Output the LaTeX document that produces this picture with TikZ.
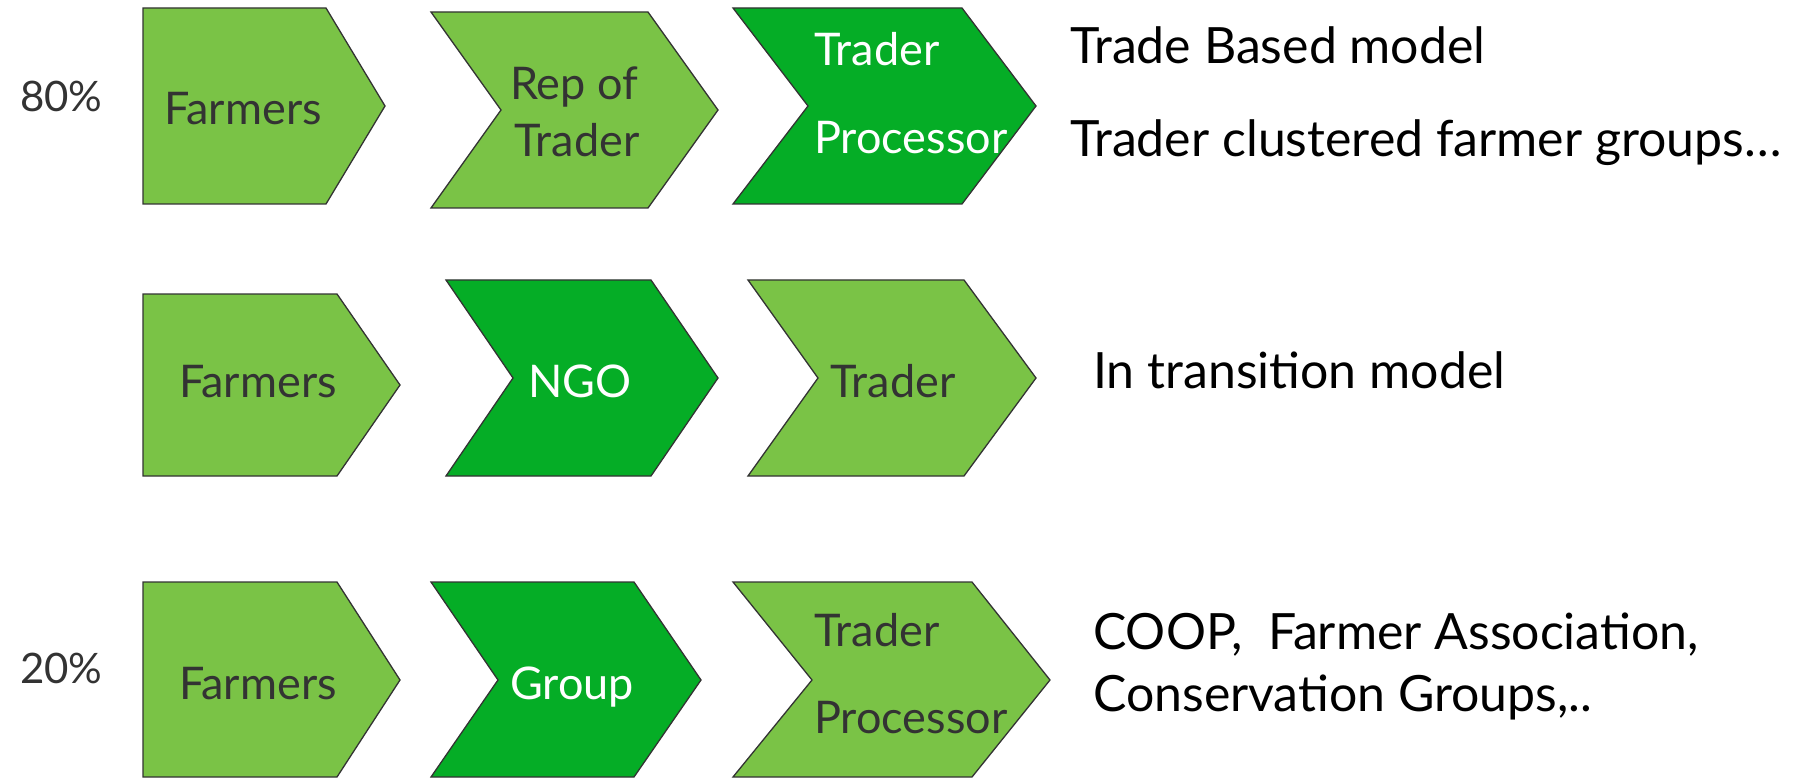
\documentclass[tikz,border=0pt]{standalone}
\usepackage{fontspec}
\setmainfont{Lato}
\definecolor{lightg}{RGB}{122,195,70}
\definecolor{darkg}{RGB}{5,173,38}
\definecolor{txtg}{RGB}{51,51,51}
\tikzset{
  lightbox/.style={fill=lightg,draw=txtg,line width=1.3pt,line join=miter},
  darkbox/.style={fill=darkg,draw=txtg,line width=1.3pt,line join=miter},
  pct/.style={anchor=base west,inner sep=0pt,text=txtg,font=\fontsize{42}{50}\selectfont},
  lbl/.style={anchor=base west,inner sep=0pt,text=txtg,font=\fontsize{45}{54}\selectfont},
  wlbl/.style={lbl,text=white},
  rtxt/.style={anchor=base west,inner sep=0pt,text=black,font=\fontsize{50}{60}\selectfont},
}
\newcommand{\pent}[7]{% style, L, F, P, T, B, M
  \path[#1] (#2,#5) -- (#3,#5) -- (#4,#7) -- (#3,#6) -- (#2,#6) -- cycle;}
\newcommand{\chev}[8]{% style, L, N, F, P, T, B, M
  \path[#1] (#2,#6) -- (#4,#6) -- (#5,#8) -- (#4,#7) -- (#2,#7) -- (#3,#8) -- cycle;}
\begin{document}
\begin{tikzpicture}[x=1pt,y=-1pt]
\useasboundingbox (0,0) rectangle (1816,778);
% row 1
\pent{lightbox}{143}{326}{385}{8}{204}{106}
\chev{lightbox}{431}{501}{648}{718}{12}{208}{110}
\chev{darkbox}{733}{808}{962}{1036}{8}{204}{106}
% row 2
\pent{lightbox}{143}{337}{400}{294}{476}{385}
\chev{darkbox}{446}{513}{651}{718}{280}{476}{378}
\chev{lightbox}{748}{818}{964}{1036}{280}{476}{378}
% row 3
\pent{lightbox}{143}{337}{400}{582}{777}{680}
\chev{darkbox}{431}{498}{634}{701}{582}{777}{680}
\chev{lightbox}{733}{812}{972}{1050}{582}{777}{680}
% labels
\node[pct] (p80) at (20,112) {80\%};
\node[lbl] (f1) at (164,125) {Farmers};
\node[lbl] (rep1) at (510,100) {Rep of};
\node[lbl] (rep2) at (514,157) {Trader};
\node[wlbl] (tp1) at (814,66) {Trader};
\node[wlbl] (tp2) at (814,154) {Processor};
\node[lbl] (f2) at (179,397) {Farmers};
\node[wlbl] (ngo) at (528,397) {NGO};
\node[lbl] (tr2) at (830,397) {Trader};
\node[pct] (p20) at (20,683) {20\%};
\node[lbl] (f3) at (179,699) {Farmers};
\node[wlbl] (grp) at (510,699) {Group};
\node[lbl] (tp3) at (814,646) {Trader};
\node[lbl] (tp4) at (814,733) {Processor};
% right texts
\node[rtxt] (r1) at (1070,64) {Trade Based model};
\node[rtxt] (r2) at (1070,157) {Trader clustered farmer groups…};
\node[rtxt] (r3) at (1093,388) {In transition model};
\node[rtxt] (r4) at (1093,649) {COOP,\ \ Farmer Association,};
\node[rtxt] (r5) at (1093,711) {Conservation Groups,..};
\end{tikzpicture}
\end{document}
